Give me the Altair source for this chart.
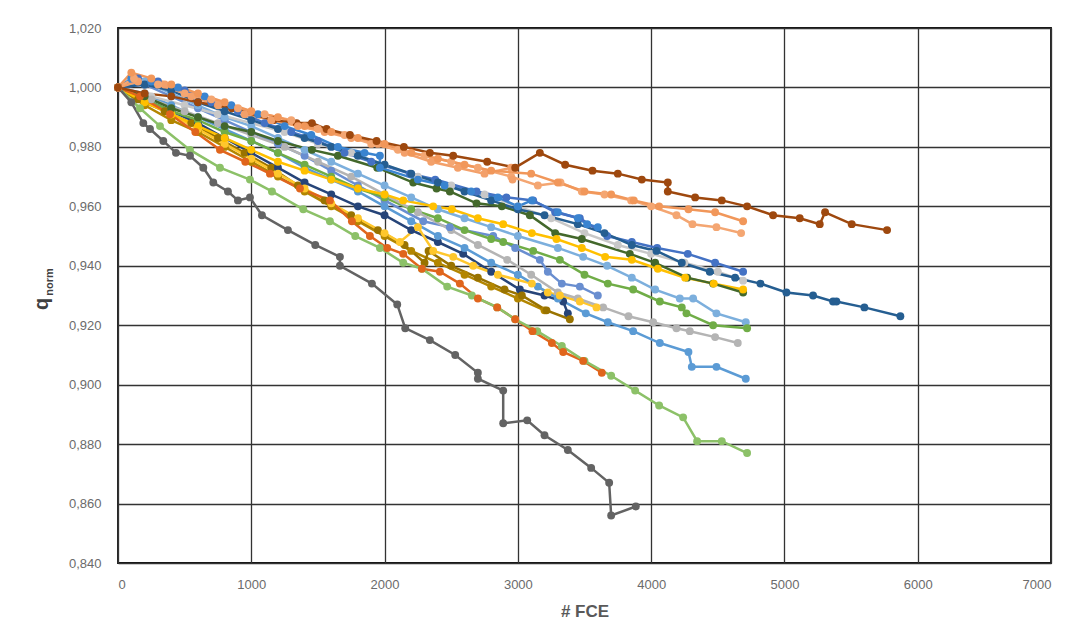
import altair as alt
import pandas as pd

# ---- series values: FCE (x) and q_norm (y) ----
olive2_x = [0, 200, 400, 600, 800, 1000, 1200, 1400, 1600, 1800, 2000, 2200, 2400, 2600, 2800, 3000, 3200]
olive2_y = [1.000, 0.994, 0.989, 0.985, 0.980, 0.975, 0.970, 0.965, 0.960, 0.955, 0.950, 0.945, 0.941, 0.937, 0.933, 0.929, 0.925]

olive1_x = [0, 150, 350, 550, 750, 950, 1150, 1350, 1550, 1750, 1950, 2150, 2300, 2330, 2500, 2700, 2900, 3030, 3215, 3390]
olive1_y = [1.000, 0.996, 0.992, 0.988, 0.983, 0.978, 0.973, 0.967, 0.962, 0.957, 0.952, 0.947, 0.941, 0.945, 0.940, 0.936, 0.932, 0.930, 0.925, 0.922]

navy_x = [0, 200, 400, 600, 800, 1000, 1200, 1400, 1600, 1800, 2000, 2200, 2400, 2590, 2800, 3015, 3200, 3340, 3375]
navy_y = [1.000, 0.996, 0.992, 0.988, 0.983, 0.978, 0.973, 0.968, 0.964, 0.960, 0.957, 0.952, 0.948, 0.944, 0.938, 0.932, 0.930, 0.928, 0.924]

yellow2_x = [0, 200, 400, 600, 800, 1000, 1200, 1400, 1600, 1800, 2000, 2115, 2250, 2365, 2515, 2665, 2850, 3105, 3225, 3315, 3465, 3590]
yellow2_y = [1.000, 0.996, 0.991, 0.986, 0.981, 0.976, 0.971, 0.966, 0.961, 0.956, 0.951, 0.948, 0.953, 0.945, 0.943, 0.940, 0.937, 0.934, 0.931, 0.930, 0.928, 0.926]

peri_x = [0, 200, 400, 600, 800, 1000, 1200, 1400, 1600, 1800, 2000, 2290, 2490, 2815, 2980, 3165, 3225, 3330, 3465, 3600]
peri_y = [1.000, 1.001, 0.997, 0.993, 0.989, 0.985, 0.981, 0.977, 0.972, 0.967, 0.962, 0.955, 0.953, 0.950, 0.946, 0.942, 0.938, 0.934, 0.933, 0.930]

ltblue2_x = [0, 200, 400, 600, 800, 1000, 1200, 1400, 1600, 1800, 2000, 2200, 2400, 2600, 2800, 3000, 3150, 3300, 3510, 3675, 3865, 4065, 4280, 4305, 4490, 4710]
ltblue2_y = [1.000, 0.998, 0.994, 0.990, 0.986, 0.982, 0.978, 0.973, 0.969, 0.965, 0.960, 0.955, 0.950, 0.946, 0.941, 0.937, 0.933, 0.929, 0.924, 0.921, 0.918, 0.914, 0.911, 0.906, 0.906, 0.902]

green_x = [0, 200, 400, 600, 800, 1000, 1200, 1400, 1600, 1800, 2000, 2200, 2400, 2600, 2800, 2890, 3115, 3315, 3500, 3675, 3865, 4065, 4230, 4265, 4465, 4720]
green_y = [1.000, 0.996, 0.992, 0.989, 0.985, 0.982, 0.978, 0.974, 0.970, 0.966, 0.963, 0.959, 0.956, 0.952, 0.949, 0.948, 0.945, 0.942, 0.937, 0.934, 0.932, 0.928, 0.926, 0.924, 0.920, 0.919]

ltblue1_x = [0, 200, 400, 600, 800, 1000, 1200, 1400, 1600, 1800, 2000, 2200, 2400, 2600, 2800, 3000, 3300, 3490, 3670, 3855, 4030, 4215, 4315, 4490, 4710]
ltblue1_y = [1.000, 1.002, 0.998, 0.994, 0.990, 0.987, 0.983, 0.979, 0.975, 0.971, 0.967, 0.963, 0.959, 0.956, 0.953, 0.950, 0.946, 0.943, 0.940, 0.936, 0.932, 0.929, 0.929, 0.924, 0.921]

ltgray_x = [0, 250, 500, 750, 1000, 1250, 1500, 1750, 2000, 2250, 2500, 2750, 3000, 3250, 3500, 3750, 4000, 4250, 4500, 4690]
ltgray_y = [1.000, 0.997, 0.994, 0.991, 0.988, 0.985, 0.981, 0.978, 0.974, 0.970, 0.967, 0.964, 0.960, 0.956, 0.951, 0.947, 0.944, 0.941, 0.938, 0.935]

gray_x = [0, 250, 500, 750, 1000, 1250, 1500, 1750, 2000, 2250, 2500, 2700, 2920, 3100, 3300, 3450, 3640, 3830, 4015, 4190, 4290, 4480, 4650]
gray_y = [1.000, 0.996, 0.992, 0.988, 0.984, 0.980, 0.975, 0.970, 0.964, 0.958, 0.952, 0.947, 0.942, 0.937, 0.931, 0.929, 0.926, 0.923, 0.921, 0.919, 0.918, 0.916, 0.914]

yellow1_x = [0, 200, 400, 600, 800, 1000, 1200, 1400, 1600, 1800, 2000, 2140, 2365, 2505, 2700, 2890, 3105, 3290, 3480, 3655, 3855, 4050, 4255, 4470, 4690]
yellow1_y = [1.000, 0.995, 0.991, 0.987, 0.983, 0.979, 0.975, 0.972, 0.969, 0.966, 0.964, 0.962, 0.960, 0.959, 0.956, 0.954, 0.951, 0.949, 0.946, 0.943, 0.942, 0.939, 0.936, 0.934, 0.932]

dkgreen_x = [0, 200, 400, 600, 800, 1000, 1200, 1455, 1650, 1945, 2215, 2390, 2490, 2690, 2880, 3090, 3280, 3480, 3840, 4030, 4270, 4465, 4690]
dkgreen_y = [1.000, 0.997, 0.993, 0.990, 0.987, 0.985, 0.982, 0.979, 0.977, 0.973, 0.968, 0.966, 0.965, 0.961, 0.960, 0.957, 0.951, 0.949, 0.944, 0.941, 0.936, 0.934, 0.931]

blue2_x = [0, 100, 250, 450, 650, 850, 1050, 1250, 1450, 1650, 1850, 1965, 1965, 2250, 2450, 2650, 2850, 3000, 3105, 3300, 3450, 3520, 3600]
blue2_y = [1.000, 1.003, 1.002, 1.000, 0.997, 0.994, 0.991, 0.987, 0.984, 0.980, 0.978, 0.977, 0.973, 0.969, 0.967, 0.965, 0.963, 0.960, 0.962, 0.958, 0.956, 0.954, 0.953]

blue1_x = [0, 150, 300, 500, 700, 900, 1100, 1300, 1500, 1700, 1900, 2190, 2380, 2690, 2915, 3115, 3280, 3465, 3670, 3855, 4045, 4275, 4480, 4690]
blue1_y = [1.000, 1.003, 1.002, 0.999, 0.995, 0.992, 0.988, 0.985, 0.982, 0.978, 0.975, 0.971, 0.969, 0.965, 0.963, 0.962, 0.958, 0.956, 0.950, 0.948, 0.946, 0.944, 0.941, 0.938]

dkblue_x = [0, 200, 400, 600, 800, 1000, 1200, 1400, 1600, 1800, 2000, 2200, 2400, 2600, 2800, 3000, 3200, 3450, 3650, 3855, 4040, 4230, 4440, 4630, 4820, 5015, 5215, 5365, 5390, 5600, 5870]
dkblue_y = [1.000, 1.001, 0.999, 0.995, 0.992, 0.989, 0.986, 0.983, 0.980, 0.977, 0.974, 0.971, 0.968, 0.965, 0.962, 0.959, 0.957, 0.954, 0.951, 0.947, 0.945, 0.941, 0.938, 0.936, 0.934, 0.931, 0.930, 0.928, 0.928, 0.926, 0.923]

orange_x = [0, 165, 390, 580, 765, 955, 1140, 1365, 1590, 1755, 1890, 2020, 2140, 2280, 2415, 2565, 2700, 2845, 2980, 3110, 3255, 3340, 3490, 3630]
orange_y = [1.000, 0.997, 0.991, 0.985, 0.979, 0.975, 0.971, 0.966, 0.962, 0.955, 0.950, 0.946, 0.944, 0.939, 0.938, 0.934, 0.929, 0.926, 0.922, 0.918, 0.914, 0.911, 0.908, 0.904]

ltgreen_x = [0, 165, 315, 540, 765, 990, 1155, 1390, 1590, 1780, 1965, 2140, 2280, 2470, 2655, 2845, 2980, 3145, 3330, 3500, 3700, 3880, 4060, 4240, 4345, 4530, 4720]
ltgreen_y = [1.000, 0.993, 0.987, 0.979, 0.973, 0.969, 0.965, 0.959, 0.955, 0.950, 0.946, 0.941, 0.939, 0.933, 0.930, 0.926, 0.922, 0.918, 0.913, 0.908, 0.903, 0.898, 0.893, 0.889, 0.881, 0.881, 0.877]

dkgray_x = [0, 100, 190, 240, 340, 435, 540, 640, 715, 825, 900, 990, 1080, 1275, 1480, 1665, 1665, 1905, 2095, 2155, 2340, 2530, 2700, 2700, 2890, 2890, 3070, 3200, 3375, 3550, 3685, 3700, 3885]
dkgray_y = [1.000, 0.995, 0.988, 0.986, 0.982, 0.978, 0.977, 0.973, 0.968, 0.965, 0.962, 0.963, 0.957, 0.952, 0.947, 0.943, 0.940, 0.934, 0.927, 0.919, 0.915, 0.910, 0.904, 0.902, 0.898, 0.887, 0.888, 0.883, 0.878, 0.872, 0.867, 0.856, 0.859]

or3_x = [0, 150, 350, 550, 750, 950, 1150, 1350, 1550, 1750, 1950, 2150, 2350, 2550, 2750, 2950, 2960]
or3_y = [1.000, 1.002, 1.001, 0.997, 0.994, 0.991, 0.989, 0.987, 0.985, 0.983, 0.981, 0.978, 0.975, 0.973, 0.971, 0.973, 0.969]

or2_x = [0, 120, 300, 500, 700, 900, 1100, 1300, 1500, 1700, 1900, 2100, 2300, 2500, 2700, 2950, 3150, 3320, 3480, 3650, 3850, 4000, 4190, 4310, 4490, 4675]
or2_y = [1.000, 1.003, 1.001, 0.998, 0.996, 0.993, 0.991, 0.989, 0.986, 0.984, 0.981, 0.979, 0.977, 0.975, 0.973, 0.970, 0.967, 0.968, 0.965, 0.964, 0.962, 0.960, 0.957, 0.954, 0.953, 0.951]

or1_x = [0, 100, 250, 400, 600, 800, 1000, 1200, 1400, 1600, 1800, 2000, 2200, 2400, 2600, 2800, 3100, 3300, 3500, 3700, 3870, 4060, 4280, 4480, 4690]
or1_y = [1.000, 1.005, 1.003, 1.001, 0.998, 0.995, 0.992, 0.990, 0.987, 0.985, 0.983, 0.981, 0.978, 0.976, 0.974, 0.972, 0.971, 0.968, 0.965, 0.964, 0.962, 0.960, 0.959, 0.958, 0.955]

brown_x = [0, 200, 400, 600, 855, 1165, 1340, 1455, 1565, 1740, 1940, 2145, 2340, 2515, 2770, 2980, 3165, 3355, 3560, 3750, 3930, 4125, 4125, 4330, 4530, 4720, 4915, 5115, 5265, 5305, 5505, 5770]
brown_y = [1.000, 0.998, 0.997, 0.995, 0.993, 0.989, 0.988, 0.988, 0.986, 0.984, 0.982, 0.980, 0.978, 0.977, 0.975, 0.973, 0.978, 0.974, 0.972, 0.971, 0.969, 0.968, 0.965, 0.963, 0.962, 0.960, 0.957, 0.956, 0.954, 0.958, 0.954, 0.952]

# drawing order (later on top) and colours
series = [
    ("olive2", olive2_x, olive2_y, "#B38600"),
    ("olive1", olive1_x, olive1_y, "#997300"),
    ("navy", navy_x, navy_y, "#264478"),
    ("yellow2", yellow2_x, yellow2_y, "#FFC72C"),
    ("peri", peri_x, peri_y, "#698ED0"),
    ("ltblue2", ltblue2_x, ltblue2_y, "#5B9BD5"),
    ("green", green_x, green_y, "#70AD47"),
    ("ltblue1", ltblue1_x, ltblue1_y, "#7CAFDD"),
    ("ltgray", ltgray_x, ltgray_y, "#C8C8C8"),
    ("gray", gray_x, gray_y, "#B4B4B4"),
    ("yellow1", yellow1_x, yellow1_y, "#FFC000"),
    ("dkgreen", dkgreen_x, dkgreen_y, "#43682B"),
    ("blue2", blue2_x, blue2_y, "#3A84D0"),
    ("blue1", blue1_x, blue1_y, "#4472C4"),
    ("dkblue", dkblue_x, dkblue_y, "#255E91"),
    ("orange", orange_x, orange_y, "#E0651C"),
    ("ltgreen", ltgreen_x, ltgreen_y, "#8CC168"),
    ("dkgray", dkgray_x, dkgray_y, "#636363"),
    ("or3", or3_x, or3_y, "#F3A06A"),
    ("or2", or2_x, or2_y, "#F4A672"),
    ("or1", or1_x, or1_y, "#F1975A"),
    ("brown", brown_x, brown_y, "#9E480E"),
]

rows = []
for k, (name, xs, ys, _c) in enumerate(series):
    for i, (xv, yv) in enumerate(zip(xs, ys)):
        rows.append({"series": f"{k:02d}_{name}", "i": i, "fce": xv, "q": yv})
df = pd.DataFrame(rows)
names = [f"{k:02d}_{s[0]}" for k, s in enumerate(series)]
colors = [s[3] for s in series]

x_ticks = [0, 1000, 2000, 3000, 4000, 5000, 6000, 7000]
y_ticks = [0.84, 0.86, 0.88, 0.90, 0.92, 0.94, 0.96, 0.98, 1.00, 1.02]

FONT = "Liberation Sans Narrow, Liberation Sans, Arial, sans-serif"

lines = alt.Chart(df).mark_line(
    strokeWidth=2.5,
    point=alt.OverlayMarkDef(size=62, filled=True, opacity=1),
).encode(
    x=alt.X("fce:Q", scale=alt.Scale(domain=[0, 7000], nice=False),
            axis=alt.Axis(values=x_ticks, title="# FCE", format="d",
                          labelFont=FONT, labelFontSize=13, labelColor="#6b6b6b",
                          labelPadding=15, titleFont=FONT, titleFontSize=17,
                          titleFontWeight="bold", titleColor="#595959", titlePadding=12,
                          grid=True, gridColor="#333333", gridWidth=1.3, gridOpacity=1,
                          domain=False, ticks=False)),
    y=alt.Y("q:Q", scale=alt.Scale(domain=[0.84, 1.02], nice=False, zero=False),
            axis=alt.Axis(values=y_ticks, title=None,
                          labelExpr="replace(format(datum.value, '.3f'), '.', ',')",
                          labelFont=FONT, labelFontSize=13, labelColor="#6b6b6b",
                          labelPadding=17, grid=True, gridColor="#333333", gridWidth=1.3,
                          gridOpacity=1, domain=False, ticks=False)),
    color=alt.Color("series:N", scale=alt.Scale(domain=names, range=colors), legend=None),
    order=alt.Order("i:Q"),
)

q_df = pd.DataFrame({"t": ["q"]})
n_df = pd.DataFrame({"t": ["norm"]})
q_text = alt.Chart(q_df).mark_text(angle=270, font=FONT, fontSize=20, fontWeight="bold",
                                   color="#404040", align="center", baseline="middle").encode(
    text="t:N", x=alt.value(-76), y=alt.value(276))
n_text = alt.Chart(n_df).mark_text(angle=270, font=FONT, fontSize=11, fontWeight="bold",
                                   color="#404040", align="center", baseline="middle").encode(
    text="t:N", x=alt.value(-68), y=alt.value(254))

chart = alt.layer(lines, q_text, n_text).properties(
    width=933, height=535,
    padding={"left": 110, "top": 20, "right": 9, "bottom": 62},
    autosize=alt.AutoSizeParams(type="none"),
    background="white",
).configure_view(stroke="#111111", strokeWidth=1.8)

chart.save("out.html", embed_options={"renderer": "svg", "actions": False})
